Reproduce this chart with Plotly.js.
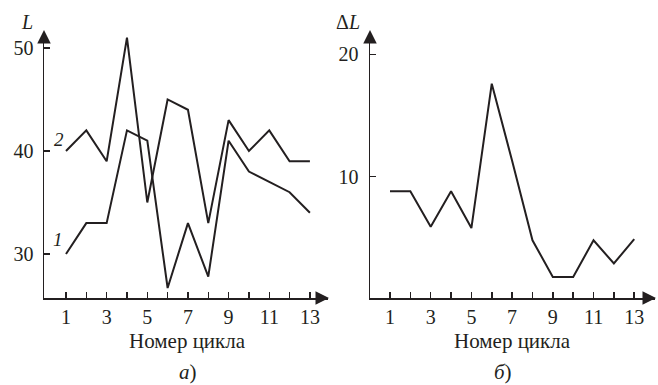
<!DOCTYPE html>
<html>
<head>
<meta charset="utf-8">
<script src="https://cdn.plot.ly/plotly-3.0.1.min.js"></script>
<style>html,body{margin:0;padding:0;background:#fff;}#chart{width:658px;height:385px;}</style>
</head>
<body>
<div id="chart"></div>
<script>
// Data
const cycles = [1, 2, 3, 4, 5, 6, 7, 8, 9, 10, 11, 12, 13];
const L1 = [30, 33, 33, 42, 41, 26.7, 33, 27.8, 41, 38, 37, 36, 34];
const L2 = [40, 42, 39, 51, 35, 45, 44, 33, 43, 40, 42, 39, 39];
const dL = [8.8, 8.8, 5.9, 8.8, 5.8, 17.6, 11.3, 4.8, 1.8, 1.8, 4.8, 2.9, 4.9];
const xTickVals = [1, 2, 3, 4, 5, 6, 7, 8, 9, 10, 11, 12, 13];
const xTickText = ['1', '', '3', '', '5', '', '7', '', '9', '', '11', '', '13'];
const yTickVals1 = [30, 40, 50];
const yTickVals2 = [10, 20];
const xTitle = 'Номер цикла';

const W = 658, H = 385;
const px = v => v / W;
const py = v => 1 - v / H;
const ink = '#231f20';
const serif = 'Liberation Serif';

const lineStyle = {color: ink, width: 2};
const traces = [
  {x: cycles, y: L1, xaxis: 'x', yaxis: 'y', mode: 'lines', line: lineStyle, cliponaxis: false, hoverinfo: 'skip'},
  {x: cycles, y: L2, xaxis: 'x', yaxis: 'y', mode: 'lines', line: lineStyle, cliponaxis: false, hoverinfo: 'skip'},
  {x: cycles, y: dL, xaxis: 'x2', yaxis: 'y2', mode: 'lines', line: lineStyle, cliponaxis: false, hoverinfo: 'skip'}
];

const axisCommon = {
  showline: true, linecolor: ink, linewidth: 1.5, showgrid: false, zeroline: false,
  ticks: 'inside', ticklen: 6, tickwidth: 1.5, tickcolor: ink,
  tickfont: {family: serif, size: 20, color: ink}, fixedrange: true
};

const yTop = 32, yBot = 298;
const layout = {
  width: W, height: H,
  margin: {l: 0, r: 0, t: 0, b: 0},
  paper_bgcolor: '#fff', plot_bgcolor: 'rgba(0,0,0,0)',
  font: {family: serif, color: ink},
  showlegend: false,
  xaxis: Object.assign({}, axisCommon, {domain: [px(44), px(328)], range: [-0.082, 13.89], anchor: 'y', tickmode: 'array', tickvals: xTickVals, ticktext: xTickText}),
  yaxis: Object.assign({}, axisCommon, {domain: [py(yBot), py(yTop)], range: [25.73, 51.55], anchor: 'x', tickmode: 'array', tickvals: yTickVals1, ticklabelstandoff: 5}),
  xaxis2: Object.assign({}, axisCommon, {domain: [px(370), px(655)], range: [0.018, 14.02], anchor: 'y2', tickmode: 'array', tickvals: xTickVals, ticktext: xTickText}),
  yaxis2: Object.assign({}, axisCommon, {domain: [py(yBot), py(yTop)], range: [0.08, 21.83], anchor: 'x2', tickmode: 'array', tickvals: yTickVals2, ticklabelstandoff: 6}),
  annotations: []
};

function arrow(xp, yp, ax, ay) {
  return {xref: 'paper', yref: 'paper', x: px(xp), y: py(yp), ax: ax, ay: ay, text: '',
    showarrow: true, arrowhead: 2, arrowsize: 1.8, arrowwidth: 1.5, arrowcolor: ink, standoff: 0};
}
function label(text, xp, yp, size, italic) {
  return {xref: 'paper', yref: 'paper', x: px(xp), y: py(yp), text: text, showarrow: false,
    xanchor: 'center', yanchor: 'middle',
    font: {family: serif, size: size, color: ink, style: italic ? 'italic' : 'normal'}};
}
layout.annotations.push(
  arrow(44, 30, 0, 12), arrow(329, yBot, -12, 0),
  arrow(370, 30, 0, 12), arrow(656, yBot, -12, 0),
  label('L', 27, 22, 20, true),
  label('Δ<i>L</i>', 348, 22, 20, false),
  label('2', 59, 139, 19, true),
  label('1', 58, 239, 19, true),
  label(xTitle, 187, 341, 21, false),
  label(xTitle, 512, 341, 21, false),
  label('<i>а</i>)', 188, 372, 21, false),
  label('<i>б</i>)', 503, 372, 21, false)
);

Plotly.newPlot('chart', traces, layout, {staticPlot: true, displayModeBar: false});
</script>
</body>
</html>
